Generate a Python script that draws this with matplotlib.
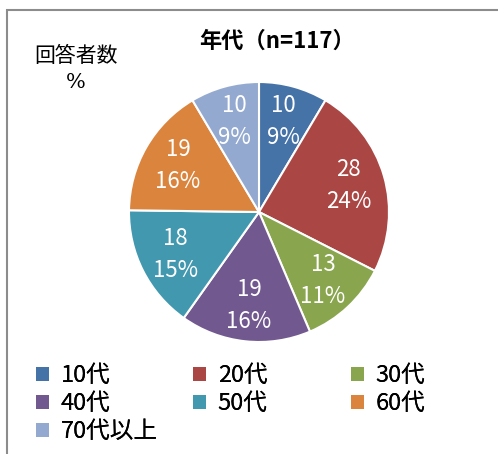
import matplotlib.pyplot as plt
from matplotlib.patches import Rectangle, Patch

plt.rcParams['font.family'] = ['Noto Sans CJK JP', 'DejaVu Sans']

categories = ['10代', '20代', '30代', '40代', '50代', '60代', '70代以上']
counts = [10, 28, 13, 19, 18, 19, 10]
percents = [9, 24, 11, 16, 15, 16, 9]
colors = ['#4572A7', '#AA4643', '#89A54E', '#71588F', '#4198AF', '#DB843D', '#93A9CF']

W, H = 498, 454
fig = plt.figure(figsize=(W / 100, H / 100), dpi=100)

# chart frame (right and bottom edges run off the image)
fig.patches.append(Rectangle((7 / W, -0.05), 1.1, 1 - 10 / H + 0.05,
                             transform=fig.transFigure, fill=False,
                             edgecolor='#8c8c8c', linewidth=1.5))

cx, cy, r = 259, 212, 130
ax = fig.add_axes([(cx - r) / W, (H - cy - r) / H, 2 * r / W, 2 * r / H])
labels = ['%d\n%d%%' % (c, p) for c, p in zip(counts, percents)]
wedges, texts = ax.pie(counts, colors=colors, startangle=90, counterclock=False,
                       labels=labels, labeldistance=0.72,
                       wedgeprops=dict(edgecolor='white', linewidth=1.5),
                       textprops=dict(color='white', fontsize=16, ha='center',
                                      va='center', linespacing=1.5))
ax.set_xlim(-1, 1)
ax.set_ylim(-1, 1)
ax.set_aspect('equal')

fig.text(277 / W, 1 - 41 / H, '年代（n=117）', ha='center', va='center',
         fontsize=16, fontweight='bold')
fig.text(76 / W, 1 - 56 / H, '回答者数', ha='center', va='center', fontsize=15)
fig.text(76 / W, 1 - 83 / H, '%', ha='center', va='center', fontsize=15,
         family='DejaVu Serif')

# legend laid out row by row, one legend per column
col_x = [36, 193, 351]
for c in range(3):
    idx = list(range(c, len(categories), 3))
    handles = [Patch(facecolor=colors[i], edgecolor='none') for i in idx]
    leg = fig.legend(handles, [categories[i] for i in idx], loc='upper left',
                     bbox_to_anchor=(col_x[c] / W, 1 - 364 / H), frameon=False,
                     fontsize=17, handlelength=0.55, handleheight=0.55,
                     handletextpad=0.5, labelspacing=0.22, borderpad=0,
                     borderaxespad=0)
    fig.add_artist(leg)

fig.savefig('out.png', dpi=100)
